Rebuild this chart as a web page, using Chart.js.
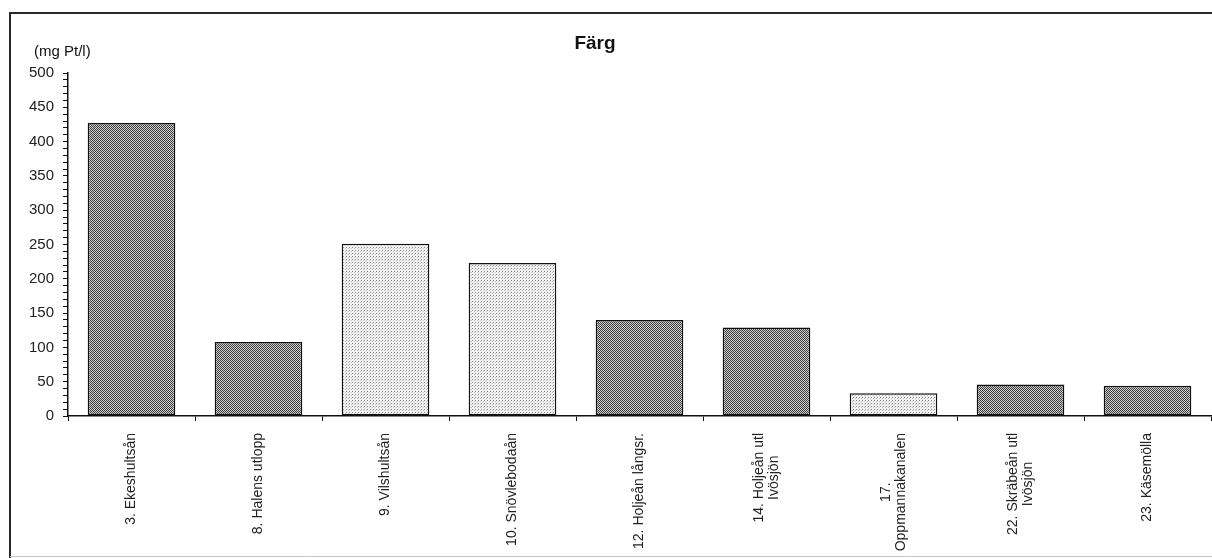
<!DOCTYPE html>
<html>
<head>
<meta charset="utf-8">
<script src="https://cdn.jsdelivr.net/npm/chart.js@4.4.1/dist/chart.umd.min.js"></script>
<style>
  html, body { margin: 0; padding: 0; background: #ffffff; }
  #wrap { width: 1212px; height: 558px; position: relative; }
</style>
</head>
<body>
<div id="wrap"><canvas id="c" width="1212" height="558"></canvas></div>
<script>
// Sampling stations (multi-line labels as arrays)
const stations = [
  ['3. Ekeshultsån'],
  ['8. Halens utlopp'],
  ['9. Vilshultsån'],
  ['10. Snövlebodaån'],
  ['12. Holjeån långsr.'],
  ['14. Holjeån utl', 'Ivösjön'],
  ['17.', 'Oppmannakanalen'],
  ['22. Skräbeån utl', 'Ivösjön'],
  ['23. Käsemölla']
];
// Colour (mg Pt/l)
const colourValues = [427, 108, 251, 223, 140, 129, 33, 46, 44];
// Fill style per station: 'dark' or 'light'
const fillKind = ['dark', 'dark', 'light', 'light', 'dark', 'dark', 'light', 'dark', 'dark'];
const chartTitle = 'Färg';
const unitLabel = '(mg Pt/l)';
const yMin = 0, yMax = 500, yMajor = 50, yMinor = 10;

// Dotted fills
function makePattern(size, bg, dots) {
  const c = document.createElement('canvas');
  c.width = size; c.height = size;
  const g = c.getContext('2d');
  g.fillStyle = bg; g.fillRect(0, 0, size, size);
  dots.forEach(([x, y, col]) => { g.fillStyle = col; g.fillRect(x, y, 1, 1); });
  return g.createPattern(c, 'repeat');
}
const ctx = document.getElementById('c').getContext('2d');
const darkFill = makePattern(2, '#d0d0d0', [[0, 0, '#3c3c3c'], [1, 1, '#3c3c3c']]);
const lightFill = makePattern(3, '#f0f0f0', [[1, 1, '#8c8c8c'], [0, 2, '#c4c4c4']]);

const FONT = '"Liberation Sans", Arial, sans-serif';

const decor = {
  id: 'decor',
  beforeDraw(chart) {
    const c = chart.ctx;
    c.save();
    c.fillStyle = '#ffffff';
    c.fillRect(0, 0, chart.width, chart.height);
    // frame
    c.strokeStyle = '#2a2a2a';
    c.lineWidth = 2;
    c.beginPath();
    c.moveTo(10, chart.height);
    c.lineTo(10, 13);
    c.lineTo(chart.width, 13);
    c.stroke();
    c.strokeStyle = '#c8c8c8';
    c.lineWidth = 1;
    c.beginPath();
    c.moveTo(10, 556.5);
    c.lineTo(chart.width, 556.5);
    c.stroke();
    c.restore();
  },
  afterDraw(chart) {
    const c = chart.ctx;
    const xs = chart.scales.x;
    c.save();
    // title
    c.fillStyle = '#111';
    c.font = 'bold 19px ' + FONT;
    c.textAlign = 'center';
    c.textBaseline = 'middle';
    c.fillText(chartTitle, 595, 44);
    // unit
    c.font = '15px ' + FONT;
    c.textAlign = 'left';
    c.fillText(unitLabel, 34, 52);
    // rotated category labels, centred lines
    c.font = '14px ' + FONT;
    c.fillStyle = '#222';
    const top = 433, lh = 15;
    stations.forEach((lines, i) => {
      const x = xs.getPixelForValue(i);
      const w = Math.max(...lines.map(l => c.measureText(l).width));
      c.save();
      c.translate(x, top);
      c.rotate(-Math.PI / 2);
      c.textAlign = 'center';
      c.textBaseline = 'middle';
      lines.forEach((l, j) => {
        c.fillText(l, -w / 2, (j - (lines.length - 1) / 2) * lh);
      });
      c.restore();
    });
    c.restore();
  }
};

new Chart(ctx, {
  type: 'bar',
  data: {
    labels: stations,
    datasets: [{
      data: colourValues,
      backgroundColor: fillKind.map(k => k === 'dark' ? darkFill : lightFill),
      borderColor: '#111',
      borderWidth: 1.5,
      borderSkipped: false,
      barPercentage: 0.69,
      categoryPercentage: 1.0
    }]
  },
  options: {
    responsive: false,
    animation: false,
    events: [],
    layout: { padding: { top: 73, right: 1, left: 0, bottom: 0 } },
    plugins: { legend: { display: false }, title: { display: false }, tooltip: { enabled: false } },
    scales: {
      x: {
        grid: { display: true, drawOnChartArea: false, drawTicks: true, tickLength: 5, color: '#111', lineWidth: 1, offset: true },
        border: { display: true, color: '#111', width: 1.5 },
        ticks: { display: false },
        afterFit(s) { s.height = 558 - 416; }
      },
      y: {
        min: yMin,
        max: yMax,
        grid: { display: true, drawOnChartArea: false, drawTicks: true, tickLength: 5, color: '#111', lineWidth: 1 },
        border: { display: true, color: '#111', width: 1.5 },
        ticks: {
          stepSize: yMinor,
          autoSkip: false,
          padding: 9,
          color: '#222',
          font: { family: FONT, size: 15 },
          callback: v => (v % yMajor === 0 ? String(v) : '')
        },
        afterFit(s) { s.width = 68; }
      }
    }
  },
  plugins: [decor]
});
</script>
</body>
</html>
